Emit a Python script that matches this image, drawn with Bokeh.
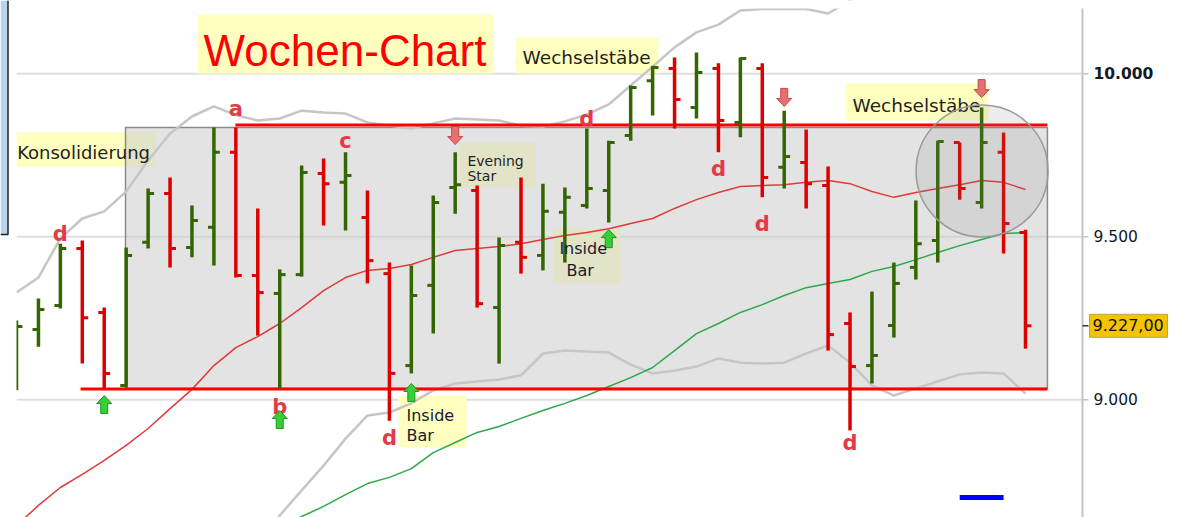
import math
from bokeh.plotting import figure
from bokeh.models import Range1d
from bokeh.core.properties import value
from bokeh.embed import file_html
from bokeh.resources import INLINE

NaN = float("nan")

# ---------------- data (weekly bars) ----------------
weeks = list(range(47))
opens = [9044, 9216, 9289, 9464, 9268, 9044, 9483, 9633, 9467, 9529,
         9759, 9381, 9326, 9384, 9694, 9667, 9559, 9387, 9105, 9351,
         9651, 9642, 9283, 9483, 9443, 9575, 9596, 9642, 9811, 9979,
         10016, 9897, 10016, 9851, 10016, 9713, 9728, 9657, 9234, 9105,
         9228, 9406, 9489, 9789, 9605, 9759, 9513]
highs = [9243, 9311, 9479, 9489, 9283, 9467, 9648, 9682, 9596, 9835,
         9835, 9587, 9400, 9719, 9740, 9759, 9642, 9421, 9412, 9627,
         9759, 9657, 9498, 9682, 9663, 9651, 9832, 9795, 9964, 10025,
         10050, 10065, 10032, 10050, 10032, 9887, 9829, 9716, 9268, 9332,
         9421, 9611, 9795, 9789, 9897, 9820, 9522]
lows = [9029, 9163, 9280, 9111, 9035, 9038, 9464, 9406, 9437, 9412,
        9375, 9197, 9035, 9378, 9535, 9519, 9357, 8936, 9081, 9203,
        9571, 9283, 9111, 9387, 9397, 9421, 9587, 9544, 9795, 9872,
        9832, 9863, 9759, 9805, 9621, 9648, 9587, 9151, 8906, 9050,
        9191, 9369, 9421, 9614, 9587, 9449, 9157]
closes = [9225, 9277, 9464, 9252, 9081, 9443, 9633, 9464, 9550, 9759,
          9381, 9329, 9384, 9697, 9663, 9688, 9427, 9081, 9320, 9605,
          9660, 9295, 9473, 9437, 9578, 9621, 9648, 9789, 9958, 10019,
          9921, 10004, 9857, 10047, 9682, 9746, 9663, 9200, 9102, 9136,
          9357, 9479, 9792, 9648, 9789, 9541, 9227]

ma_fast = [8614, 8676, 8731, 8771, 8814, 8860, 8912, 8973, 9032, 9105,
           9160, 9194, 9234, 9283, 9335, 9375, 9397, 9403, 9415, 9437,
           9458, 9464, 9470, 9479, 9492, 9504, 9513, 9525, 9541, 9556,
           9587, 9614, 9636, 9654, 9657, 9660, 9667, 9673, 9663, 9639,
           9621, 9636, 9648, 9660, 9673, 9667, 9645]
ma_slow = [NaN] * 12 + [
           8605, 8642, 8673, 8709, 8743, 8762, 8789, 8838, 8869, 8900,
           8918, 8943, 8967, 8989, 9013, 9041, 9068, 9099, 9151, 9203,
           9234, 9268, 9292, 9320, 9344, 9357, 9369, 9394, 9409, 9430,
           9452, 9473, 9492, 9510, 9513]
bb_upper = [9329, 9375, 9495, 9556, 9578, 9639, 9734, 9817, 9869, 9900,
            9873, 9857, 9863, 9887, 9881, 9878, 9851, 9841, 9832, 9848,
            9863, 9860, 9857, 9841, 9838, 9854, 9875, 9906, 9964, 10022,
            10081, 10127, 10151, 10194, 10199, 10199, 10199, 10185, 10225, 10270,
            NaN, NaN, NaN, NaN, NaN, NaN, NaN]
bb_lower = [NaN] * 11 + [
            8560, 8645, 8722, 8798, 8881, 8952, 8961, 8989, 9029, 9050,
            9056, 9062, 9075, 9142, 9151, 9148, 9145, 9108, 9081, 9090,
            9102, 9127, 9114, 9111, 9114, 9142, 9167, 9114, 9044, 9013,
            9035, 9056, 9078, 9084, 9081, 9019]

y_ticks = [9000, 9500, 10000]
y_tick_labels = ["9.000", "9.500", "10.000"]
y_tick_bold = [False, False, True]
last_price = 9227
last_price_text = "9.227,00"

# consolidation zone and its limits
zone_left, zone_right = 4.97, 47.0
zone_top, zone_bottom = 9835, 9035
resistance_level, resistance_from = 9843, 9.98
support_level, support_from = 9033, 2.92

# swing letters
letter_text = ["d", "a", "b", "c", "d", "d", "d", "d", "d"]
letter_week = [2, 10, 12, 15, 17, 26, 32, 34, 38]
letter_price = [9482, 9866, 8952, 9768, 8857, 9835, 9682, 9513, 8841]

# signal arrows (tip positions)
up_arrow_week = [4, 12, 18, 27]
up_arrow_price = [9013, 8967, 9050, 9522]
down_arrow_week = [20, 35, 44]
down_arrow_price = [9783, 9900, 9927]

# highlight circle and scale marker
circle_week, circle_price = 44.02, 9702
marker_from, marker_to, marker_price = 43.0, 45.0, 8700

# ---------------- figure ----------------
W, H = 1177, 517
BAR_PX = 21.935                     # pixels per week
x0, x1 = -16 / BAR_PX, (W - 16) / BAR_PX
y0, y1 = 8638.96, 10224.85
ux = (x1 - x0) / W                  # weeks per pixel
uy = (y1 - y0) / H                  # price per pixel
axis_x = (1082 - 16) / BAR_PX       # price scale position (week units)
frame_top = y1 - 8 * uy


def lift(prices, size, k=0.42):
    # baseline correction for the svg text renderer
    return [pr + k * size * uy for pr in prices]


p = figure(width=W, height=H, x_range=Range1d(x0, x1), y_range=Range1d(y0, y1),
           output_backend="svg", toolbar_location=None,
           x_axis_location=None, y_axis_location=None,
           min_border_left=0, min_border_right=0, min_border_top=0, min_border_bottom=0)
p.outline_line_color = None
p.background_fill_color = "white"
p.border_fill_color = "white"
p.xgrid.visible = False
p.ygrid.visible = False

SANS = value("DejaVu Sans")

# horizontal grid
p.segment(x0=[0] * len(y_ticks), y0=y_ticks, x1=[axis_x] * len(y_ticks), y1=y_ticks,
          line_color="#dfdfdf", line_width=2)

# yellow note boxes
note_left = [8.25, 22.75, 37.79, 0.0, 20.2, 17.42, 24.48]
note_right = [21.75, 29.27, 44.31, 6.34, 23.66, 20.52, 27.54]
note_top = [10182, 10111, 9970, 9820, 9789, 9013, 9525]
note_bottom = [10001, 10001, 9857, 9713, 9651, 8854, 9357]
p.quad(left=note_left, right=note_right, top=note_top, bottom=note_bottom,
       fill_color="#ffffc0", line_color=None)

# consolidation zone
p.quad(left=[zone_left], right=[zone_right], top=[zone_top], bottom=[zone_bottom],
       fill_color="#cccccc", fill_alpha=0.55, line_color="#8a8a8a", line_width=1.5)

# bands and averages
p.line(weeks, bb_upper, line_color="#c6c6c6", line_width=2.5)
p.line(weeks, bb_lower, line_color="#c6c6c6", line_width=2.5)
p.line(weeks, ma_fast, line_color="#e03a3a", line_width=1.5)
p.line(weeks, ma_slow, line_color="#2aa84a", line_width=1.5)

# resistance / support
p.segment(x0=[resistance_from, support_from], y0=[resistance_level, support_level],
          x1=[zone_right, zone_right], y1=[resistance_level, support_level],
          line_color="#ff0000", line_width=3)

# OHLC bars
tick = 0.27
colors = ["#336600" if c >= o else "#dd0000" for o, c in zip(opens, closes)]
src = dict(x=weeks, xl=[w - tick for w in weeks], xr=[w + tick for w in weeks],
           o=opens, h=highs, l=lows, c=closes, col=colors)
p.segment(x0="x", y0="l", x1="x", y1="h", line_color="col", line_width=3.5, source=src)
p.segment(x0="xl", y0="o", x1="x", y1="o", line_color="col", line_width=3, source=src)
p.segment(x0="x", y0="c", x1="xr", y1="c", line_color="col", line_width=3, source=src)

# chart area limits (top edge and left edge of the chart window)
p.quad(left=[x0 + 8.5 * ux], right=[0], top=[y1], bottom=[y0],
       fill_color="white", line_color=None)
p.quad(left=[0], right=[axis_x], top=[y1], bottom=[frame_top],
       fill_color="white", line_color=None)

# left window edge panel
p.quad(left=[x0], right=[x0 + 7.5 * ux], top=[y1], bottom=[y1 - 234 * uy],
       fill_color="#bad4ee", line_color=None)
p.line([x0 + 7.5 * ux, x0 + 7.5 * ux, x0], [y1, y1 - 234 * uy, y1 - 234 * uy],
       line_color="#222222", line_width=1.5)

# swing letters
p.text(x=letter_week, y=lift(letter_price, 21), text=letter_text, text_font=SANS,
       text_font_style="bold", text_font_size="21px", text_color="#e63946",
       text_align="center", text_baseline="alphabetic")

# arrows
def arrow(xc, ytip, up):
    pts = [(0, 0), (7.5, 8), (3.5, 8), (3.5, 18), (-3.5, 18), (-3.5, 8), (-7.5, 8)]
    s = -1 if up else 1
    return [xc + dx * ux for dx, dy in pts], [ytip + s * dy * uy for dx, dy in pts]

ua = [arrow(w, pr, True) for w, pr in zip(up_arrow_week, up_arrow_price)]
da = [arrow(w, pr, False) for w, pr in zip(down_arrow_week, down_arrow_price)]
p.patches(xs=[a[0] for a in ua], ys=[a[1] for a in ua], fill_color="#36cf36",
          line_color="#1f921f", line_width=1)
p.patches(xs=[a[0] for a in da], ys=[a[1] for a in da], fill_color="#e66f6f",
          line_color="#c44a4a", line_width=1)

# note texts
p.text(x=[8.53], y=lift([10022], 44, 0.36), text=["Wochen-Chart"],
       text_font=value("Liberation Sans"), text_font_size="44px", text_color="#ff0000",
       text_baseline="alphabetic")
p.text(x=[23.07, 38.11], y=lift([10025, 9878], 18.5), text=["Wechselstäbe", "Wechselstäbe"],
       text_font=SANS, text_font_size="18.5px", text_color="#1f1f1f",
       text_baseline="alphabetic")
p.text(x=[0.03], y=lift([9734], 18), text=["Konsolidierung"], text_font=SANS,
       text_font_size="18px", text_color="#1f1f1f", text_baseline="alphabetic")
p.text(x=[20.56, 20.56], y=lift([9714, 9667], 14), text=["Evening", "Star"],
       text_font=SANS, text_font_size="14px", text_color="#1f1f1f",
       text_baseline="alphabetic")
p.text(x=[17.78, 17.78, 24.75, 25.07], y=lift([8931, 8870, 9443, 9375], 16),
       text=["Inside", "Bar", "Inside", "Bar"], text_font=SANS,
       text_font_size="16px", text_color="#1a1a2e", text_baseline="alphabetic")

# highlight circle
p.scatter(x=[circle_week], y=[circle_price], size=132, marker="circle",
          fill_color="#808080", fill_alpha=0.15, line_color="#9a9a9a", line_width=1.5)

# scale marker
p.segment(x0=[marker_from], y0=[marker_price], x1=[marker_to], y1=[marker_price],
          line_color="#0000ff", line_width=5)

# ---------------- price scale (right) ----------------
p.segment(x0=[axis_x], y0=[frame_top], x1=[axis_x], y1=[y0],
          line_color="#c4c4c4", line_width=2)
p.segment(x0=[axis_x] * len(y_ticks), y0=y_ticks, x1=[axis_x + 6 * ux] * len(y_ticks),
          y1=y_ticks, line_color="#c4c4c4", line_width=1.5)
p.segment(x0=[axis_x], y0=[last_price], x1=[axis_x + 6 * ux], y1=[last_price],
          line_color="#333333", line_width=1.5)
lab_x = axis_x + 11 * ux
reg = [(t, s) for t, s, b in zip(y_ticks, y_tick_labels, y_tick_bold) if not b]
bold = [(t, s) for t, s, b in zip(y_ticks, y_tick_labels, y_tick_bold) if b]
p.text(x=[lab_x] * len(reg), y=lift([t - 5.8 * uy for t, s in reg], 15.5),
       text=[s for t, s in reg], text_font=SANS, text_font_size="15.5px",
       text_color="#111827", text_baseline="alphabetic")
p.text(x=[lab_x] * len(bold), y=lift([t - 5.8 * uy for t, s in bold], 15.5),
       text=[s for t, s in bold], text_font=SANS, text_font_style="bold",
       text_font_size="15.5px", text_color="#111827", text_baseline="alphabetic")
# last price tag
p.quad(left=[axis_x + 7 * ux], right=[axis_x + 85 * ux],
       top=[last_price + 11.5 * uy], bottom=[last_price - 11.5 * uy],
       fill_color="#f5c400", line_color="#b9a25a", line_width=1)
p.text(x=[axis_x + 10 * ux], y=lift([last_price - 6 * uy], 16), text=[last_price_text],
       text_font=SANS, text_font_size="16px", text_color="#111111",
       text_baseline="alphabetic")

open("out.html", "w").write(file_html(p, INLINE))
